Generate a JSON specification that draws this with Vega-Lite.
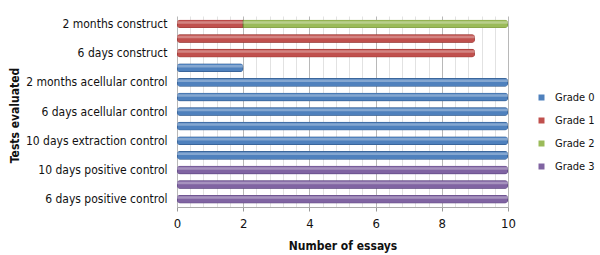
{
  "$schema": "https://vega.github.io/schema/vega-lite/v6.json",
  "autosize": "none",
  "width": 331,
  "height": 191,
  "padding": {"left": 177, "top": 16, "right": 92, "bottom": 48},
  "background": "white",
  "config": {
    "font": "DejaVu Sans Condensed",
    "view": {"stroke": null},
    "axis": {"labelFont": "DejaVu Sans Condensed", "titleFont": "DejaVu Sans Condensed"},
    "legend": {"labelFont": "DejaVu Sans Condensed"}
  },
  "data": {
    "values": [
      {"test": "2 months construct", "order": 1, "grade": "Grade 1", "n": 2},
      {"test": "2 months construct", "order": 1, "grade": "Grade 2", "n": 8},
      {"test": "10 days construct", "order": 2, "grade": "Grade 1", "n": 9},
      {"test": "6 days construct", "order": 3, "grade": "Grade 1", "n": 9},
      {"test": "6 days construct control", "order": 4, "grade": "Grade 0", "n": 2},
      {"test": "2 months acellular control", "order": 5, "grade": "Grade 0", "n": 10},
      {"test": "10 days acellular control", "order": 6, "grade": "Grade 0", "n": 10},
      {"test": "6 days acellular control", "order": 7, "grade": "Grade 0", "n": 10},
      {"test": "2 months extraction control", "order": 8, "grade": "Grade 0", "n": 10},
      {"test": "10 days extraction control", "order": 9, "grade": "Grade 0", "n": 10},
      {"test": "6 days extraction control", "order": 10, "grade": "Grade 0", "n": 10},
      {"test": "10 days positive control", "order": 11, "grade": "Grade 3", "n": 10},
      {"test": "2 months positive control", "order": 12, "grade": "Grade 3", "n": 10},
      {"test": "6 days positive control", "order": 13, "grade": "Grade 3", "n": 10}
    ]
  },
  "encoding": {
    "y": {
      "field": "test",
      "type": "nominal",
      "sort": {"field": "order", "op": "min"},
      "scale": {"paddingInner": 0.42, "paddingOuter": 0.25},
      "axis": {
        "title": "Tests evaluated",
        "titleFontSize": 12,
        "titleFontWeight": "bold",
        "titleColor": "#111",
        "titleAngle": -90,
        "titleX": -163,
        "titleY": 99,
        "titleAlign": "center",
        "titleBaseline": "middle",
        "labelFontSize": 12,
        "labelColor": "#111",
        "labelPadding": 10,
        "ticks": false,
        "domain": false,
        "labelExpr": "round(datum.index * 12) % 2 == 0 ? datum.label : ''"
      }
    },
    "x": {
      "field": "n",
      "type": "quantitative",
      "stack": "zero",
      "scale": {"domain": [0, 10], "nice": false},
      "axis": {
        "title": "Number of essays",
        "titleFontSize": 12,
        "titleFontWeight": "bold",
        "titleColor": "#111",
        "titlePadding": 10,
        "values": [0, 0.4, 0.8, 1.2, 1.6, 2, 2.4, 2.8, 3.2, 3.6, 4, 4.4, 4.8, 5.2, 5.6, 6, 6.4, 6.8, 7.2, 7.6, 8, 8.4, 8.8, 9.2, 9.6, 10],
        "labelExpr": "datum.value % 2 == 0 ? format(datum.value, 'd') : ''",
        "labelOverlap": false,
        "labelFlush": false,
        "labelFontSize": 13,
        "labelColor": "#111",
        "labelPadding": 6,
        "tickColor": {"condition": {"test": "datum.value % 2 == 0", "value": "#999"}, "value": "transparent"},
        "tickSize": 4,
        "domainColor": "#aaa",
        "gridColor": {"condition": {"test": "datum.value % 2 == 0", "value": "#b8b8b8"}, "value": "#e2e2e2"},
        "gridWidth": 1
      }
    },
    "order": {"field": "grade", "type": "nominal", "sort": "ascending"}
  },
  "layer": [
    {
      "mark": {"type": "bar", "strokeWidth": 1, "cornerRadius": 3},
      "encoding": {
        "color": {
          "field": "grade",
          "type": "nominal",
          "scale": {
            "domain": ["Grade 0", "Grade 1", "Grade 2", "Grade 3"],
            "range": ["#4F81BD", "#C0504D", "#9BBB59", "#8064A2"]
          },
          "legend": {
            "title": null,
            "orient": "none",
            "legendX": 359,
            "legendY": 76,
            "padding": 0,
            "symbolType": "square",
            "symbolSize": 36,
            "symbolStrokeWidth": 0,
            "labelFontSize": 11,
            "labelColor": "#111",
            "labelOffset": 8,
            "rowPadding": 11
          }
        },
        "stroke": {
          "field": "grade",
          "type": "nominal",
          "scale": {
            "domain": ["Grade 0", "Grade 1", "Grade 2", "Grade 3"],
            "range": ["#2c5282", "#8c2f2c", "#6d8a36", "#553f78"]
          },
          "legend": null
        }
      }
    },
    {
      "mark": {"type": "bar", "color": "white", "opacity": 0.3, "size": 2.5, "yOffset": -1.5},
      "encoding": {}
    }
  ]
}
